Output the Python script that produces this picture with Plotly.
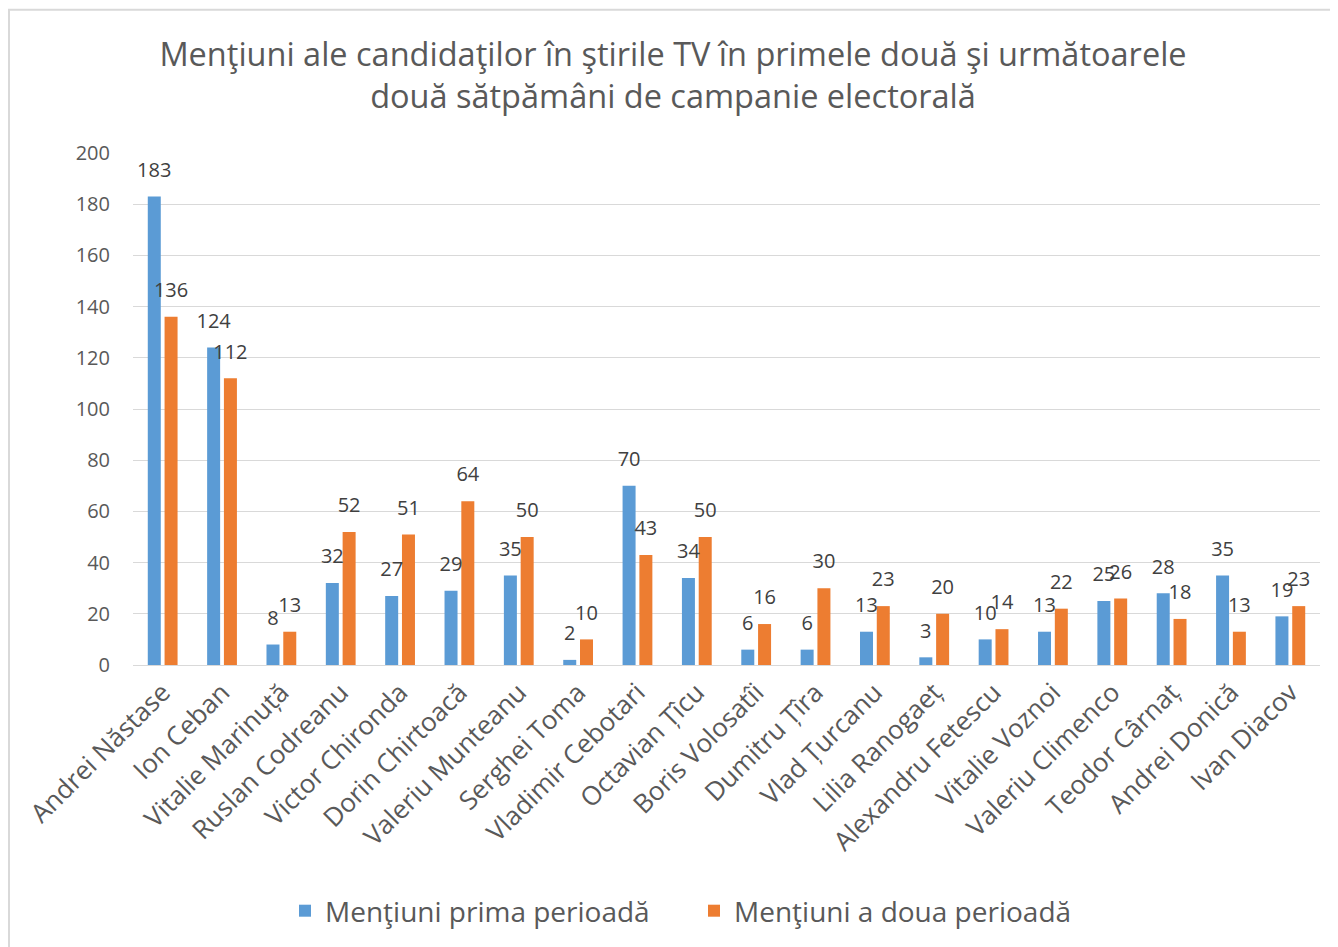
import plotly.graph_objects as go

candidati = ["Andrei Năstase", "Ion Ceban", "Vitalie Marinuță", "Ruslan Codreanu",
             "Victor Chironda", "Dorin Chirtoacă", "Valeriu Munteanu", "Serghei Toma",
             "Vladimir Cebotari", "Octavian Țîcu", "Boris Volosatîi", "Dumitru Țîra",
             "Vlad Țurcanu", "Lilia Ranogaeț", "Alexandru Fetescu", "Vitalie Voznoi",
             "Valeriu Climenco", "Teodor Cârnaț", "Andrei Donică", "Ivan Diacov"]
prima = [183, 124, 8, 32, 27, 29, 35, 2, 70, 34, 6, 6, 13, 3, 10, 13, 25, 28, 35, 19]
a_doua = [136, 112, 13, 52, 51, 64, 50, 10, 43, 50, 16, 30, 23, 20, 14, 22, 26, 18, 13, 23]
y_ticks = [0, 20, 40, 60, 80, 100, 120, 140, 160, 180, 200]

# page body has an 8px margin, so the figure is a bit smaller than the window
W, H = 1330, 939
L, R, T, B = 125, 18, 145, 281
pw, ph = W - L - R, H - T - B
font = "Open Sans"
grey = "#595959"
gap = 0.434

fig = go.Figure()
fig.add_trace(go.Bar(x=candidati, y=prima, name="Menţiuni prima perioadă",
                     marker_color="#5B9BD5", marker_line_width=0, offsetgroup="1"))
fig.add_trace(go.Bar(x=candidati, y=a_doua, name="Menţiuni a doua perioadă",
                     marker_color="#ED7D31", marker_line_width=0, offsetgroup="2"))
# data labels, grouped the same way as the bars
for vals, grp in [(prima, "1"), (a_doua, "2")]:
    fig.add_trace(go.Scatter(x=candidati, y=vals, text=vals, mode="markers+text",
                             textposition="top center", offsetgroup=grp,
                             marker=dict(size=22, opacity=0), cliponaxis=False,
                             textfont=dict(family=font, size=20, color="#404040"),
                             showlegend=False, hoverinfo="skip"))

# light frame around the chart (runs off right and bottom edges)
fig.add_shape(type="rect", xref="paper", yref="paper",
              x0=(1 - L) / pw, x1=(W + 10 - L) / pw,
              y0=(H - B - H - 10) / ph, y1=(H - B - 1.5) / ph,
              line=dict(color="#D9D9D9", width=2), fillcolor="rgba(0,0,0,0)", layer="below")

fig.update_layout(
    width=W, height=H,
    margin=dict(l=L, r=R, t=T, b=B),
    paper_bgcolor="white", plot_bgcolor="white",
    barmode="group", bargap=gap, bargroupgap=0.226,
    scattermode="group", scattergap=gap,
    title=dict(text="Menţiuni ale candidaţilor în ştirile TV în primele două şi următoarele<br>două sătpămâni de campanie electorală",
               x=0.5, xanchor="center", y=1 - 58 / H, yanchor="middle", yref="container",
               font=dict(family=font, size=32.5, color=grey)),
    legend=dict(orientation="h", x=(277 - L) / pw, xanchor="left",
                y=(H - B - 903) / ph, yanchor="middle", entrywidth=364,
                font=dict(family=font, size=28, color=grey)),
    font=dict(family=font, color=grey),
    xaxis=dict(tickangle=-45, tickfont=dict(family=font, size=26, color=grey),
               showline=False, ticks="", ticklabelstandoff=6),
    yaxis=dict(range=[0, 200], tickvals=y_ticks, showgrid=True, gridcolor="#D9D9D9",
               gridwidth=1.3, zeroline=True, zerolinecolor="#D9D9D9", zerolinewidth=1.3,
               tickfont=dict(family=font, size=20, color=grey), ticklabelstandoff=22),
)

fig.write_html("out.html")
